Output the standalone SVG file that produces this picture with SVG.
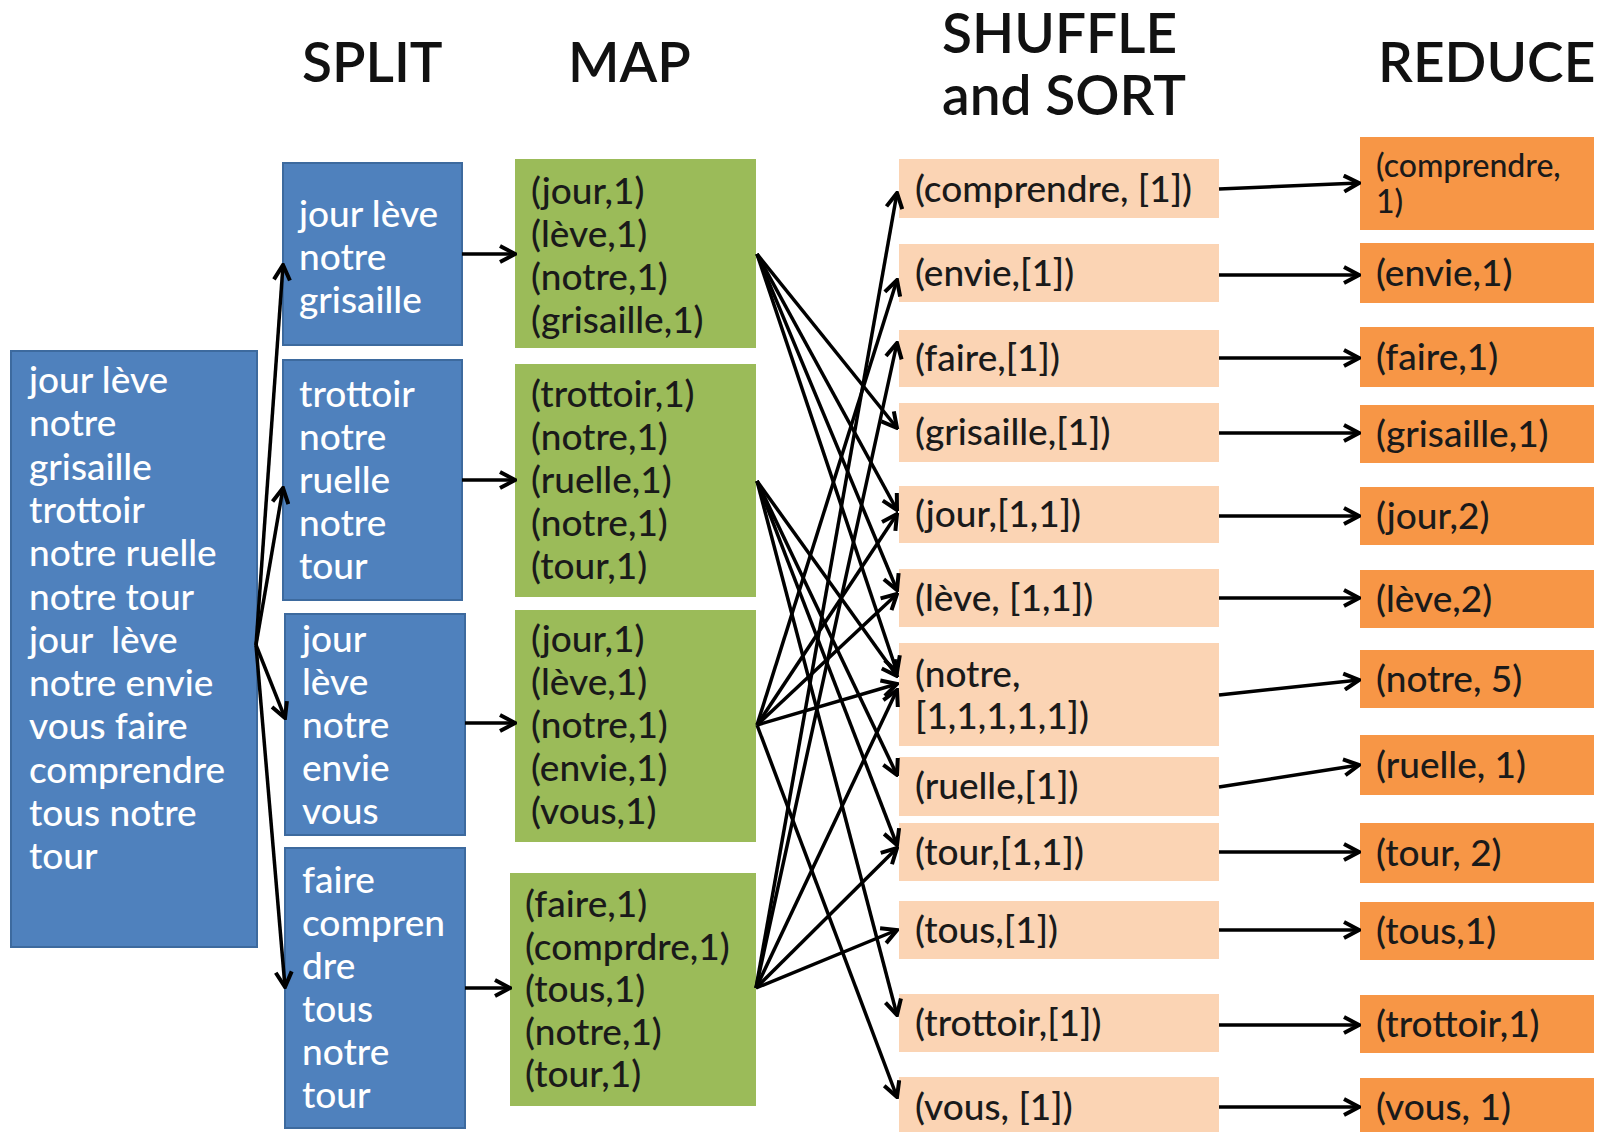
<svg xmlns="http://www.w3.org/2000/svg" width="1606" height="1132" viewBox="0 0 1606 1132">
  <style>
    .hdr { font-family: Lato, "Liberation Sans", sans-serif; font-weight: 600; font-size: 55px; fill: #111; }
    .split rect { fill: #4F81BD; stroke: #3D6A9E; stroke-width: 2; }
    .split text { font-family: Lato, "Liberation Sans", sans-serif; font-weight: 500; font-size: 37px; fill: #fff; }
    .map rect { fill: #9BBB59; }
    .map text, .shuf text, .red text { font-family: Lato, "Liberation Sans", sans-serif; font-weight: 500; font-size: 37px; fill: #1a1a1a; }
    .shuf rect { fill: #FBD4B4; }
    .red rect { fill: #F79646; }
    .conn line { stroke: #000; stroke-width: 3.5; marker-end: url(#arrow); }
  </style>
  <defs>
    <marker id="arrow" viewBox="0 0 20 20" refX="18" refY="10" markerWidth="20" markerHeight="20" orient="auto" markerUnits="userSpaceOnUse">
      <path d="M3,2 L18,10 L3,18" fill="none" stroke="#000" stroke-width="4"/>
    </marker>
  </defs>
  <rect width="1606" height="1132" fill="#fff"/>

  <!-- column headings -->
  <g id="headers">
    <text class="hdr" x="302" y="82">SPLIT</text>
    <text class="hdr" x="568" y="82">MAP</text>
    <text class="hdr" x="942" y="53">SHUFFLE</text>
    <text class="hdr" x="942" y="115">and SORT</text>
    <text class="hdr" x="1378" y="82">REDUCE</text>
  </g>

  <!-- input text -->
  <g id="input" class="split">
    <rect x="11" y="351" width="246" height="596"/>
    <text>
      <tspan x="29" y="393">jour lève</tspan>
      <tspan x="29" y="436">notre</tspan>
      <tspan x="29" y="480">grisaille</tspan>
      <tspan x="29" y="523">trottoir</tspan>
      <tspan x="29" y="566">notre ruelle</tspan>
      <tspan x="29" y="610">notre tour</tspan>
      <tspan x="29" y="653">jour&#160; lève</tspan>
      <tspan x="29" y="696">notre envie</tspan>
      <tspan x="29" y="739">vous faire</tspan>
      <tspan x="29" y="783">comprendre</tspan>
      <tspan x="29" y="826">tous notre</tspan>
      <tspan x="29" y="869">tour</tspan>
    </text>
  </g>

  <!-- split -->
  <g id="split1" class="split">
    <rect x="283" y="163" width="179" height="182"/>
    <text><tspan x="299" y="227">jour lève</tspan><tspan x="299" y="270">notre</tspan><tspan x="299" y="313">grisaille</tspan></text>
  </g>
  <g id="split2" class="split">
    <rect x="283" y="360" width="179" height="240"/>
    <text><tspan x="299" y="407">trottoir</tspan><tspan x="299" y="450">notre</tspan><tspan x="299" y="493">ruelle</tspan><tspan x="299" y="536">notre</tspan><tspan x="299" y="579">tour</tspan></text>
  </g>
  <g id="split3" class="split">
    <rect x="285" y="614" width="180" height="221"/>
    <text><tspan x="302" y="652">jour</tspan><tspan x="302" y="695">lève</tspan><tspan x="302" y="738">notre</tspan><tspan x="302" y="781">envie</tspan><tspan x="302" y="824">vous</tspan></text>
  </g>
  <g id="split4" class="split">
    <rect x="285" y="848" width="180" height="280"/>
    <text><tspan x="302" y="893">faire</tspan><tspan x="302" y="936">compren</tspan><tspan x="302" y="979">dre</tspan><tspan x="302" y="1022">tous</tspan><tspan x="302" y="1065">notre</tspan><tspan x="302" y="1108">tour</tspan></text>
  </g>

  <!-- map -->
  <g id="map1" class="map">
    <rect x="515" y="159" width="241" height="189"/>
    <text><tspan x="531" y="204">(jour,1)</tspan><tspan x="531" y="247">(lève,1)</tspan><tspan x="531" y="290">(notre,1)</tspan><tspan x="531" y="333">(grisaille,1)</tspan></text>
  </g>
  <g id="map2" class="map">
    <rect x="515" y="364" width="241" height="233"/>
    <text><tspan x="531" y="407">(trottoir,1)</tspan><tspan x="531" y="450">(notre,1)</tspan><tspan x="531" y="493">(ruelle,1)</tspan><tspan x="531" y="536">(notre,1)</tspan><tspan x="531" y="579">(tour,1)</tspan></text>
  </g>
  <g id="map3" class="map">
    <rect x="515" y="610" width="241" height="232"/>
    <text><tspan x="531" y="652">(jour,1)</tspan><tspan x="531" y="695">(lève,1)</tspan><tspan x="531" y="738">(notre,1)</tspan><tspan x="531" y="781">(envie,1)</tspan><tspan x="531" y="824">(vous,1)</tspan></text>
  </g>
  <g id="map4" class="map">
    <rect x="510" y="873" width="246" height="233"/>
    <text><tspan x="525" y="917">(faire,1)</tspan><tspan x="525" y="960">(comprdre,1)</tspan><tspan x="525" y="1002">(tous,1)</tspan><tspan x="525" y="1045">(notre,1)</tspan><tspan x="525" y="1087">(tour,1)</tspan></text>
  </g>

  <!-- shuffle and sort -->
  <g id="shuf-comprendre" class="shuf"><rect x="899" y="159" width="320" height="59"/><text x="915" y="202">(comprendre, [1])</text></g>
  <g id="shuf-envie" class="shuf"><rect x="899" y="244" width="320" height="58"/><text x="915" y="286">(envie,[1])</text></g>
  <g id="shuf-faire" class="shuf"><rect x="899" y="330" width="320" height="57"/><text x="915" y="371">(faire,[1])</text></g>
  <g id="shuf-grisaille" class="shuf"><rect x="899" y="403" width="320" height="59"/><text x="915" y="445">(grisaille,[1])</text></g>
  <g id="shuf-jour" class="shuf"><rect x="899" y="486" width="320" height="57"/><text x="915" y="527">(jour,[1,1])</text></g>
  <g id="shuf-leve" class="shuf"><rect x="899" y="569" width="320" height="58"/><text x="915" y="611">(lève, [1,1])</text></g>
  <g id="shuf-notre" class="shuf"><rect x="899" y="643" width="320" height="103"/><text><tspan x="915" y="687">(notre,</tspan><tspan x="915" y="729">[1,1,1,1,1])</tspan></text></g>
  <g id="shuf-ruelle" class="shuf"><rect x="899" y="757" width="320" height="59"/><text x="915" y="799">(ruelle,[1])</text></g>
  <g id="shuf-tour" class="shuf"><rect x="899" y="823" width="320" height="58"/><text x="915" y="865">(tour,[1,1])</text></g>
  <g id="shuf-tous" class="shuf"><rect x="899" y="901" width="320" height="58"/><text x="915" y="943">(tous,[1])</text></g>
  <g id="shuf-trottoir" class="shuf"><rect x="899" y="994" width="320" height="58"/><text x="915" y="1036">(trottoir,[1])</text></g>
  <g id="shuf-vous" class="shuf"><rect x="899" y="1077" width="320" height="55"/><text x="915" y="1120">(vous, [1])</text></g>

  <!-- reduce -->
  <g id="red-comprendre" class="red"><rect x="1360" y="137" width="234" height="93"/><text style="font-size:32px"><tspan x="1376" y="177">(comprendre,</tspan><tspan x="1376" y="213">1)</tspan></text></g>
  <g id="red-envie" class="red"><rect x="1360" y="243" width="234" height="60"/><text x="1376" y="286">(envie,1)</text></g>
  <g id="red-faire" class="red"><rect x="1360" y="327" width="234" height="60"/><text x="1376" y="370">(faire,1)</text></g>
  <g id="red-grisaille" class="red"><rect x="1360" y="405" width="234" height="58"/><text x="1376" y="447">(grisaille,1)</text></g>
  <g id="red-jour" class="red"><rect x="1360" y="487" width="234" height="58"/><text x="1376" y="529">(jour,2)</text></g>
  <g id="red-leve" class="red"><rect x="1360" y="570" width="234" height="58"/><text x="1376" y="612">(lève,2)</text></g>
  <g id="red-notre" class="red"><rect x="1360" y="650" width="234" height="58"/><text x="1376" y="692">(notre, 5)</text></g>
  <g id="red-ruelle" class="red"><rect x="1360" y="735" width="234" height="60"/><text x="1376" y="778">(ruelle, 1)</text></g>
  <g id="red-tour" class="red"><rect x="1360" y="823" width="234" height="60"/><text x="1376" y="866">(tour, 2)</text></g>
  <g id="red-tous" class="red"><rect x="1360" y="902" width="234" height="58"/><text x="1376" y="944">(tous,1)</text></g>
  <g id="red-trottoir" class="red"><rect x="1360" y="995" width="234" height="58"/><text x="1376" y="1037">(trottoir,1)</text></g>
  <g id="red-vous" class="red"><rect x="1360" y="1078" width="234" height="54"/><text x="1376" y="1120">(vous, 1)</text></g>

  <!-- connectors -->
  <g id="connectors" class="conn">
    <!-- input to split -->
    <line x1="256" y1="645" x2="283" y2="265"/>
    <line x1="256" y1="645" x2="283" y2="488"/>
    <line x1="256" y1="645" x2="285" y2="718"/>
    <line x1="256" y1="645" x2="285" y2="987"/>
    <!-- split to map -->
    <line x1="462" y1="254" x2="515" y2="254"/>
    <line x1="462" y1="480" x2="515" y2="480"/>
    <line x1="465" y1="723" x2="515" y2="723"/>
    <line x1="465" y1="988" x2="510" y2="988"/>
    <!-- map 1 -->
    <line x1="757" y1="254" x2="897" y2="428"/>
    <line x1="757" y1="254" x2="897" y2="510"/>
    <line x1="757" y1="254" x2="897" y2="590"/>
    <line x1="757" y1="254" x2="897" y2="672"/>
    <!-- map 2 -->
    <line x1="757" y1="481" x2="897" y2="676"/>
    <line x1="757" y1="481" x2="897" y2="775"/>
    <line x1="757" y1="481" x2="897" y2="845"/>
    <line x1="757" y1="481" x2="897" y2="1015"/>
    <!-- map 3 -->
    <line x1="757" y1="725" x2="897" y2="280"/>
    <line x1="757" y1="725" x2="897" y2="514"/>
    <line x1="757" y1="725" x2="897" y2="594"/>
    <line x1="757" y1="725" x2="897" y2="684"/>
    <line x1="757" y1="725" x2="897" y2="1097"/>
    <!-- map 4 -->
    <line x1="756" y1="988" x2="897" y2="193"/>
    <line x1="756" y1="988" x2="897" y2="343"/>
    <line x1="756" y1="988" x2="897" y2="690"/>
    <line x1="756" y1="988" x2="897" y2="848"/>
    <line x1="756" y1="988" x2="897" y2="930"/>
    <!-- shuffle to reduce -->
    <line x1="1219" y1="189" x2="1359" y2="183"/>
    <line x1="1219" y1="275" x2="1359" y2="275"/>
    <line x1="1219" y1="358" x2="1359" y2="358"/>
    <line x1="1219" y1="433" x2="1359" y2="433"/>
    <line x1="1219" y1="516" x2="1359" y2="516"/>
    <line x1="1219" y1="598" x2="1359" y2="598"/>
    <line x1="1219" y1="695" x2="1359" y2="680"/>
    <line x1="1219" y1="787" x2="1359" y2="765"/>
    <line x1="1219" y1="852" x2="1359" y2="852"/>
    <line x1="1219" y1="930" x2="1359" y2="930"/>
    <line x1="1219" y1="1025" x2="1359" y2="1025"/>
    <line x1="1219" y1="1107" x2="1359" y2="1107"/>
  </g>
</svg>
